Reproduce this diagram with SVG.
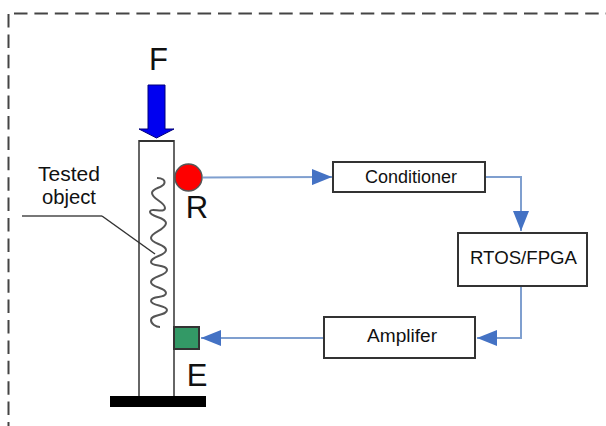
<svg xmlns="http://www.w3.org/2000/svg" width="606" height="426" viewBox="0 0 606 426">
<defs>
<marker id="ah" markerUnits="userSpaceOnUse" markerWidth="22" markerHeight="16" refX="20" refY="8" orient="auto"><path d="M0 0L20 8L0 16Z" fill="#4472c4"/></marker>
</defs>
<style>
text{font-family:"Liberation Sans",Arial,sans-serif;fill:#111;text-anchor:middle}
.box{fill:#fff;stroke:#333;stroke-width:2}
.c{fill:none;stroke:#7f9fcf;stroke-width:2;marker-end:url(#ah)}
.l{font-size:18px}
.t{font-size:20px}
.b{font-size:31px}
.w{fill:none;stroke:#555;stroke-width:2}
.d{fill:none;stroke:#444;stroke-width:2;stroke-dasharray:13.500 6.900}
</style>
<rect width="606" height="426" fill="#fff"/>
<path class="d" d="M8.500 14V426"/>
<path class="d" d="M14 13.500H606"/>
<g id="connectors">
<path class="c" d="M203 177.500L332 177"/>
<path class="c" d="M485 177H521V231"/>
<path class="c" d="M521 286V338H477"/>
<path class="c" d="M324 338H201"/>
</g>
<g id="column">
<path d="M139 397V141H174V397" fill="#fff" stroke="#666" stroke-width="2"/>
<path d="M174 141H139" stroke="#333" stroke-width="2"/>
<rect x="110" y="396" width="96" height="11" fill="#000"/>
</g>
<g id="coil">
<path class="w" d="M157 178C162 178 166 180 164 184C162 188 152 188 152 193C152 199 165 202 165 208C165 214 150 207 150 212C150 217 166 217 166 223C166 230 151 232 151 238C151 244 166 244 166 250C166 256 151 256 151 262C151 267 167 264 167 270C167 276 151 276 151 282C151 288 166 287 166 293C166 299 151 295 151 301C151 306 167 305 167 310C167 316 151 314 151 320C151 324 156 327 160 327"/>
</g>
<g id="force">
<path d="M148 85H165V129H174L156.500 138L139 129H148Z" fill="#0000f0" stroke="#00007a"/>
<text class="b" x="158.500" y="70">F</text>
</g>
<g id="tested-object">
<text class="t" x="69" y="181" textLength="62" lengthAdjust="spacingAndGlyphs">Tested</text>
<text class="t" x="69" y="204" textLength="54" lengthAdjust="spacingAndGlyphs">object</text>
<path d="M22 216H102" fill="none" stroke="#777" stroke-width="2"/>
<path d="M102 216L155 254" fill="none" stroke="#333" stroke-width="1.500"/>
</g>
<g id="sensor-r">
<circle cx="188.500" cy="177.500" r="13.500" fill="#fe0000" stroke="#555" stroke-width="1.500"/>
<text class="b" x="197" y="218">R</text>
</g>
<g id="actuator-e">
<rect x="174" y="327" width="25" height="22" fill="#339966" stroke="#333" stroke-width="2"/>
<text class="b" x="197" y="386">E</text>
</g>
<g id="conditioner">
<rect class="box" x="333" y="162" width="152" height="30"/>
<text class="l" x="411" y="183" textLength="92" lengthAdjust="spacingAndGlyphs">Conditioner</text>
</g>
<g id="rtos">
<rect class="box" x="458" y="233" width="129" height="53"/>
<text class="l" x="523.500" y="264" textLength="107" lengthAdjust="spacingAndGlyphs">RTOS/FPGA</text>
</g>
<g id="amplifier">
<rect class="box" x="324" y="317" width="151" height="41"/>
<text class="l" x="402" y="342" textLength="70" lengthAdjust="spacingAndGlyphs">Amplifer</text>
</g>
</svg>
